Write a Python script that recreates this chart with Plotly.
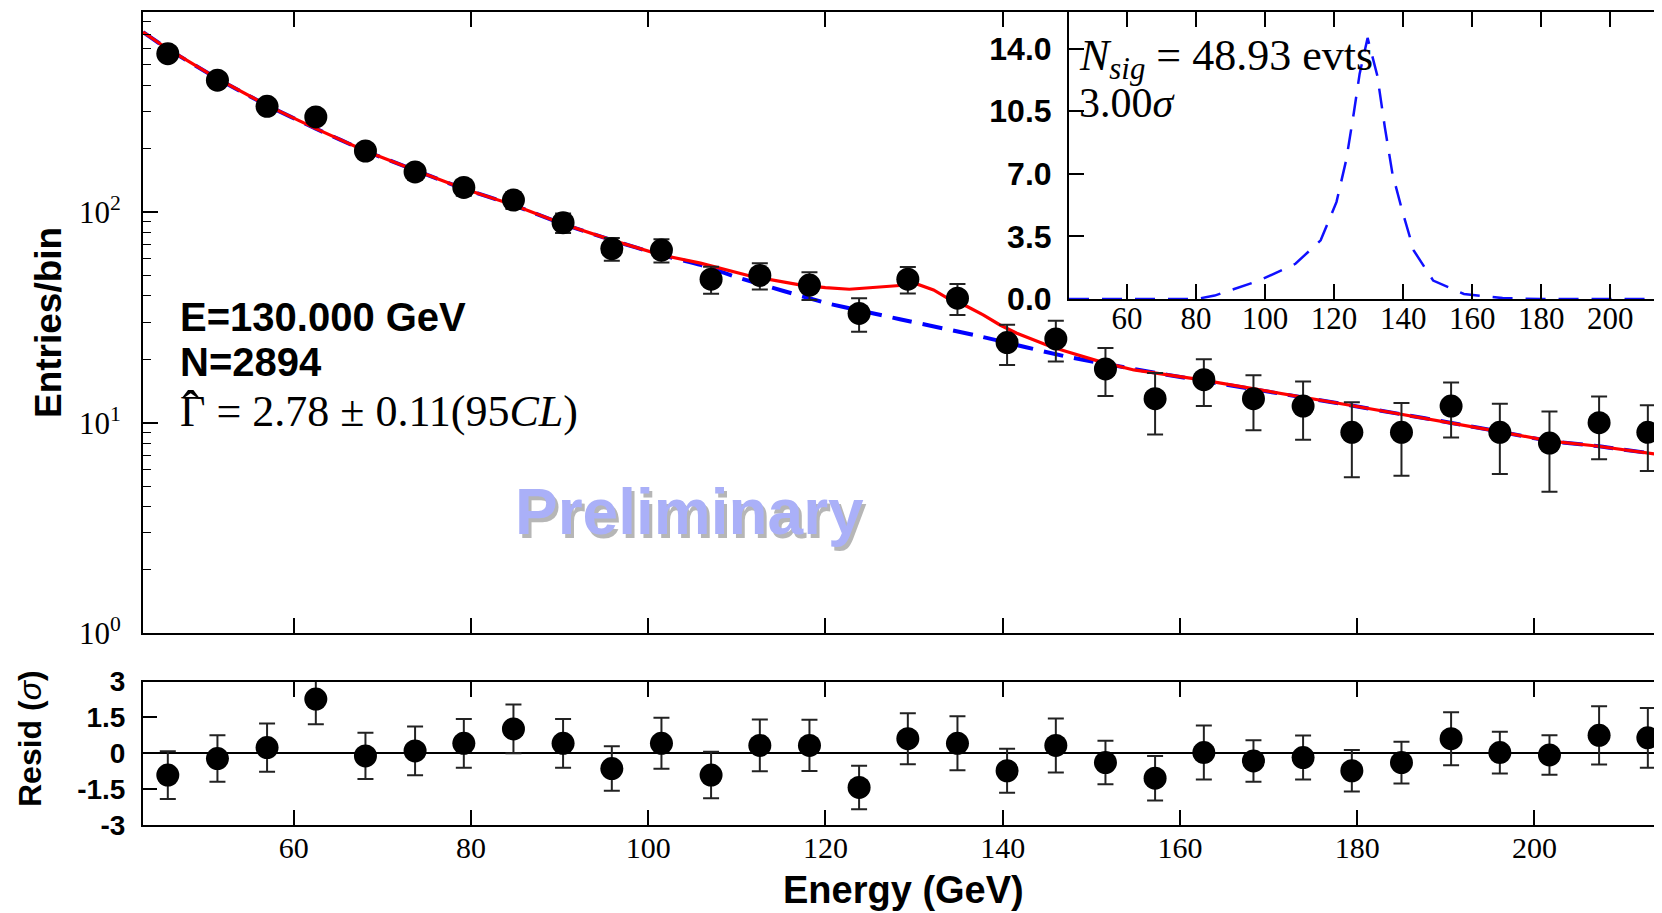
import plotly.graph_objects as go

# ---------------- data ----------------
energy = [45.8, 51.4, 57.0, 62.5, 68.1, 73.7, 79.2, 84.8, 90.4, 95.9, 101.5,
          107.1, 112.6, 118.2, 123.8, 129.3, 134.9, 140.5, 146.0, 151.6, 157.2,
          162.7, 168.3, 173.9, 179.4, 185.0, 190.6, 196.1, 201.7, 207.3, 212.8]
counts = [565, 423, 318, 283, 195, 155, 131, 114, 89, 67, 66,
          48, 50, 45, 33, 48, 39, 24, 25, 18, 13,
          16, 13, 12, 9, 9, 12, 9, 8, 10, 9]
count_err = [24, 21, 18, 17, 14, 12.5, 11.5, 10.7, 9.4, 8.3, 8.3,
             7.0, 7.1, 6.8, 6.0, 6.9, 6.5, 5.2, 5.5, 4.6, 4.2,
             4.0, 3.8, 3.7, 3.5, 3.4, 3.5, 3.3, 3.3, 3.3, 3.1]

resid = [-0.91, -0.22, 0.24, 2.27, -0.11, 0.10, 0.42, 1.02, 0.42, -0.64, 0.42,
         -0.91, 0.33, 0.33, -1.43, 0.61, 0.42, -0.73, 0.33, -0.39, -1.04,
         0.03, -0.32, -0.18, -0.73, -0.39, 0.61, 0.03, -0.07, 0.75, 0.65]
resid_err = [1.0, 0.97, 1.01, 1.05, 0.97, 1.02, 1.02, 1.02, 1.02, 0.93, 1.07,
             0.97, 1.08, 1.07, 0.91, 1.07, 1.13, 0.92, 1.13, 0.91, 0.93,
             1.13, 0.87, 0.92, 0.87, 0.87, 1.11, 0.87, 0.83, 1.22, 1.25]

# background fit (blue dashed)
bkg_x = [43.0, 45.8, 51.4, 57.0, 62.5, 68.1, 73.7, 79.2, 84.8, 90.4, 95.9, 101.5,
         105.9, 110.4, 120.2, 124.0, 128.4, 137.8, 147.2, 158.5, 179.2, 184.8,
         190.5, 195.9, 201.6, 207.0, 215.3]
bkg_y = [715, 595, 430, 321, 249, 195, 158, 129, 108, 87.7, 73.6, 62.5,
         56.1, 48.5, 36.9, 34.0, 31.0, 25.5, 20.6, 16.9, 12.1, 11.0,
         10.0, 9.1, 8.2, 7.75, 6.95]

# signal + background (red solid)
tot_x = [43.0, 45.8, 51.4, 57.0, 62.5, 68.1, 73.7, 79.2, 84.8, 90.4, 95.9, 101.5,
         105.9, 111.5, 117.1, 120.0, 122.7, 124.7, 126.5, 128.4, 130.3, 132.2,
         134.1, 136.0, 137.8, 139.7, 141.6, 143.5, 145.4, 147.2, 151.0, 154.8,
         162.3, 179.2, 184.8, 190.5, 195.9, 201.6, 207.0, 215.3]
tot_y = [715, 595, 430, 321, 249, 195, 158, 129, 108, 87.7, 73.6, 62.5,
         57.2, 49.7, 45.1, 43.8, 43.0, 43.5, 44.0, 44.8, 45.6, 42.7,
         38.3, 35.6, 32.5, 29.1, 26.6, 24.7, 23.0, 21.8, 19.5, 17.8,
         16.0, 12.1, 11.0, 10.0, 9.1, 8.2, 7.75, 6.95]

# signal shape (inset)
sig_x = [43.2, 80.0, 85.4, 98.3, 108.8, 116.1, 120.7, 123.5, 125.7, 127.4, 129.7,
         132.5, 134.7, 136.9, 139.7, 143.1, 148.7, 157.6, 168.8, 180.0, 217.3]
sig_y = [0.0, 0.0, 0.19, 1.03, 1.97, 3.28, 5.43, 7.77, 10.4, 12.6, 14.6,
         12.5, 9.6, 7.0, 4.96, 2.7, 1.03, 0.28, 0.05, 0.0, 0.0]

x_ticks = [60, 80, 100, 120, 140, 160, 180, 200]
main_y_ticks = [1, 10, 100]
main_y_text = ["10<sup>0</sup>", "10<sup>1</sup>", "10<sup>2</sup>"]
resid_ticks = [-3, -1.5, 0, 1.5, 3]
resid_text = ["-3", "-1.5", "0", "1.5", "3"]
inset_y_ticks = [0.0, 3.5, 7.0, 10.5, 14.0]
inset_y_text = ["0.0", "3.5", "7.0", "10.5", "14.0"]
minor_log = [m * d for d in (1, 10, 100) for m in range(2, 10) if m * d < 890]

SERIF = "Liberation Serif"
SANS = "Liberation Sans"

# page geometry (the html body adds an 8px offset)
OFF = 8
L_MARGIN = 143 - OFF
PLOT_W = 1662 - L_MARGIN
X_RANGE = [43.0, 215.3]

fig = go.Figure()

# main panel
fig.add_trace(go.Scatter(x=bkg_x, y=bkg_y, mode="lines", xaxis="x", yaxis="y",
                         line=dict(color="#0000ff", width=4, dash="20px,11px",
                                   shape="spline", smoothing=0.5)))
fig.add_trace(go.Scatter(x=tot_x, y=tot_y, mode="lines", xaxis="x", yaxis="y",
                         line=dict(color="#ff0000", width=3.2)))
fig.add_trace(go.Scatter(x=energy, y=counts, mode="markers", xaxis="x", yaxis="y",
                         marker=dict(color="black", size=23),
                         error_y=dict(type="data", array=count_err, visible=True,
                                      color="#222222", thickness=2, width=8)))

# residual panel
fig.add_trace(go.Scatter(x=energy, y=resid, mode="markers", xaxis="x2", yaxis="y2",
                         marker=dict(color="black", size=23),
                         error_y=dict(type="data", array=resid_err, visible=True,
                                      color="#222222", thickness=2, width=8)))

# inset
fig.add_trace(go.Scatter(x=sig_x, y=sig_y, mode="lines", xaxis="x3", yaxis="y3",
                         line=dict(color="#1010ff", width=2.5, dash="20px,13px")))

common = dict(showgrid=False, zeroline=False, showline=True, linecolor="black",
              linewidth=2, ticks="inside", tickcolor="black", tickwidth=1.5,
              mirror="ticks", automargin=False)

ymain_lo = (825 - 633.3) / 813
yres_hi = (825 - 681.6) / 813
inset_x0 = (1069 - 143) / PLOT_W
inset_y0 = (825 - 299) / 813

fig.update_layout(
    width=1662, height=913,
    margin=dict(l=L_MARGIN, r=0, t=12 - OFF, b=913 - (825 - OFF), autoexpand=False),
    plot_bgcolor="white", paper_bgcolor="white",
    showlegend=False,
    xaxis=dict(common, domain=[0, 1], anchor="y", range=X_RANGE,
               tickvals=x_ticks, showticklabels=False, ticklen=15),
    yaxis=dict(common, domain=[ymain_lo, 1], anchor="x", type="log", range=[0, 2.95],
               tickvals=main_y_ticks, ticktext=main_y_text, ticklen=15,
               tickfont=dict(family=SERIF, size=31, color="black"),
               ticklabelstandoff=14,
               minor=dict(tickvals=minor_log, ticks="inside", ticklen=8,
                          tickcolor="black", tickwidth=1.2, showgrid=False)),
    xaxis2=dict(common, domain=[0, 1], anchor="y2", range=X_RANGE,
                tickvals=x_ticks, ticklen=15,
                tickfont=dict(family=SERIF, size=30, color="black"),
                ticklabelstandoff=-5),
    yaxis2=dict(common, domain=[0, yres_hi], anchor="x2", range=[-3, 3],
                tickvals=resid_ticks, ticktext=resid_text, ticklen=14,
                zeroline=True, zerolinecolor="black", zerolinewidth=2,
                tickfont=dict(family=SANS, size=28, color="black", weight="bold"),
                ticklabelstandoff=10),
    xaxis3=dict(common, domain=[inset_x0, 1], anchor="y3", range=[43.2, 217.3],
                tickvals=x_ticks, ticklen=15,
                tickfont=dict(family=SERIF, size=31, color="black"),
                ticklabelstandoff=-9),
    yaxis3=dict(common, domain=[inset_y0, 1], anchor="x3", range=[0, 16.05],
                tickvals=inset_y_ticks, ticktext=inset_y_text, ticklen=15,
                tickfont=dict(family=SANS, size=32, color="black", weight="bold"),
                ticklabelstandoff=9),
)


def px(xp):
    return (xp - 143) / PLOT_W


def py(yp):
    return (825 - yp) / 813


ann = [
    dict(text="<b>Entries/bin</b>", x=px(48), y=py(323), textangle=-90,
         font=dict(family=SANS, size=37, color="black")),
    dict(text="<b>Resid (</b><i>σ</i><b>)</b>", x=px(30), y=py(739), textangle=-90,
         font=dict(family=SANS, size=32, color="black")),
    dict(text="<b>Energy (GeV)</b>", x=px(903), y=py(890),
         font=dict(family=SANS, size=38, color="black")),
    dict(text="<b>E=130.000 GeV</b>", x=px(178), y=py(317), xanchor="left",
         font=dict(family=SANS, size=40, color="black")),
    dict(text="<b>N=2894</b>", x=px(178), y=py(362), xanchor="left",
         font=dict(family=SANS, size=40, color="black")),
    dict(text="Γ = 2.78 ± 0.11(95<i>CL</i>)", x=px(178), y=py(411), xanchor="left",
         font=dict(family=SERIF, size=44, color="black")),
    dict(text="ˆ", x=px(190), y=py(409),
         font=dict(family=SERIF, size=52, color="black")),
    dict(text="<i>N</i><sub><i>sig</i></sub> = 48.93 evts", x=px(1077), y=py(58),
         xanchor="left", font=dict(family=SERIF, size=44, color="black")),
    dict(text="3.00<i>σ</i>", x=px(1077), y=py(103), xanchor="left",
         font=dict(family=SERIF, size=42, color="black")),
    dict(text="<b>Preliminary</b>", x=px(692), y=py(516),
         font=dict(family=SANS, size=64, color="rgba(110,110,110,0.5)")),
    dict(text="<b>Preliminary</b>", x=px(689), y=py(512),
         font=dict(family=SANS, size=64, color="#aab0f8")),
]
for a in ann:
    a.update(xref="paper", yref="paper", showarrow=False)
    a.setdefault("xanchor", "center")
    a.setdefault("yanchor", "middle")
fig.update_layout(annotations=ann)

fig.write_html("out.html")
